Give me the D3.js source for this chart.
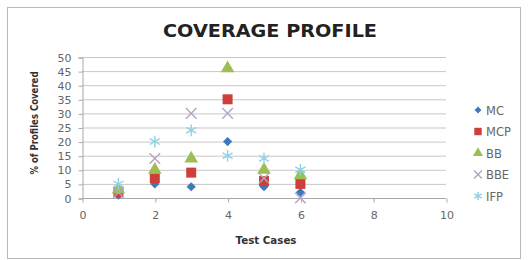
<!DOCTYPE html>
<html><head><meta charset="utf-8">
<script src="https://cdn.jsdelivr.net/npm/d3@7"></script>
<style>body{margin:0;background:#fff}svg{display:block}text{font-family:"DejaVu Sans","Liberation Sans",sans-serif}</style>
</head><body>
<script>
const testCases = [1, 2, 3, 4, 5, 6];
const seriesNames = ["MC", "MCP", "BB", "BBE", "IFP"];
const MC  = [1, 5, 4, 20, 4, 2];
const MCP = [2, 7, 9, 35, 6, 5];
const BB  = [3, 10, 14, 46, 10, 8];
const BBE = [2, 14, 30, 30, 7, 0];
const IFP = [5, 20, 24, 15, 14, 10];
const xTicks = [0, 2, 4, 6, 8, 10];
const yTicks = [0, 5, 10, 15, 20, 25, 30, 35, 40, 45, 50];

const seriesVals = {MC, MCP, BB, BBE, IFP};
const colors = {MC:"#3f78bd", MCP:"#cc3f3a", BB:"#9dbd55", BBE:"#b4a4c4", IFP:"#8fd2e4"};
const shapes = {MC:"diamond", MCP:"square", BB:"triangle", BBE:"x", IFP:"star"};

const W = 528, H = 260;
const svg = d3.select("body").append("svg").attr("width", W).attr("height", H);
svg.append("rect").attr("x",7.5).attr("y",7.5).attr("width",513).attr("height",251)
  .attr("fill","#fff").attr("stroke","#b8b8b8");

const x = d3.scaleLinear().domain([0,10]).range([82,446]);
const y = d3.scaleLinear().domain([0,50]).range([198,57]);

svg.append("g").selectAll("line").data(yTicks).join("line")
  .attr("x1",x(0)).attr("x2",x(10)).attr("y1",d=>y(d)+0.5).attr("y2",d=>y(d)+0.5)
  .attr("stroke",d=>d===0?"#a8a8a8":"#c8c8c8").attr("stroke-width",1);

const ya = svg.append("g").attr("transform",`translate(${x(0)+0.5},0.5)`)
  .call(d3.axisLeft(y).tickValues(yTicks).tickSize(4).tickPadding(7));
ya.select(".domain").attr("stroke","#a8a8a8");
ya.selectAll(".tick line").attr("stroke","#a8a8a8");
ya.selectAll("text").attr("font-size",11).attr("fill","#666").attr("font-family","DejaVu Sans");

const xa = svg.append("g").attr("transform",`translate(0.5,${y(0)+0.5})`)
  .call(d3.axisBottom(x).tickValues(xTicks).tickSize(4).tickPadding(9));
xa.select(".domain").remove();
xa.selectAll(".tick line").attr("stroke","#a8a8a8");
xa.selectAll("text").attr("font-size",11).attr("fill","#666").attr("font-family","DejaVu Sans");

function symbolPath(shape, size){
  const map = {diamond:d3.symbolSquare, square:d3.symbolSquare, triangle:d3.symbolTriangle, x:d3.symbolTimes, star:d3.symbolAsterisk};
  return d3.symbol().type(map[shape]).size(size)();
}
function drawMarker(g, name, cx, cy, scale){
  const s = shapes[name], c = colors[name];
  const sizes = {diamond:42, square:100, triangle:80, x:75, star:95};
  const p = g.append("path").attr("d", symbolPath(s, sizes[s]*scale))
    .attr("transform",`translate(${cx},${cy})` + (s==="diamond" ? " rotate(45)" : ""));
  if (s==="x" || s==="star") p.attr("fill","none").attr("stroke",c).attr("stroke-width",1.4);
  else p.attr("fill",c);
}

const plot = svg.append("g");
seriesNames.forEach(name=>{
  seriesVals[name].forEach((v,i)=>{
    drawMarker(plot, name, x(testCases[i]), y(v), 1);
  });
});

const lg = svg.append("g");
seriesNames.forEach((name,i)=>{
  const ly = 110 + i*21.5;
  drawMarker(lg, name, 478, ly, 0.55);
  lg.append("text").attr("x",486).attr("y",ly+4.5).attr("font-size",11.5).attr("fill","#666").text(name);
});

svg.append("text").attr("x",270).attr("y",37).attr("text-anchor","middle")
  .attr("font-size",17).attr("font-weight","bold").attr("fill","#222")
  .attr("textLength",214).attr("lengthAdjust","spacingAndGlyphs").text("COVERAGE PROFILE");
svg.append("text").attr("x",266).attr("y",244).attr("text-anchor","middle")
  .attr("font-size",10).attr("font-weight","bold").attr("fill","#333")
  .attr("textLength",61).attr("lengthAdjust","spacingAndGlyphs").text("Test Cases");
svg.append("text").attr("transform","translate(38,123) rotate(-90)").attr("text-anchor","middle")
  .attr("font-size",10).attr("font-weight","bold").attr("fill","#333")
  .attr("textLength",103).attr("lengthAdjust","spacingAndGlyphs").text("% of Profiles Covered");
</script>
</body></html>
